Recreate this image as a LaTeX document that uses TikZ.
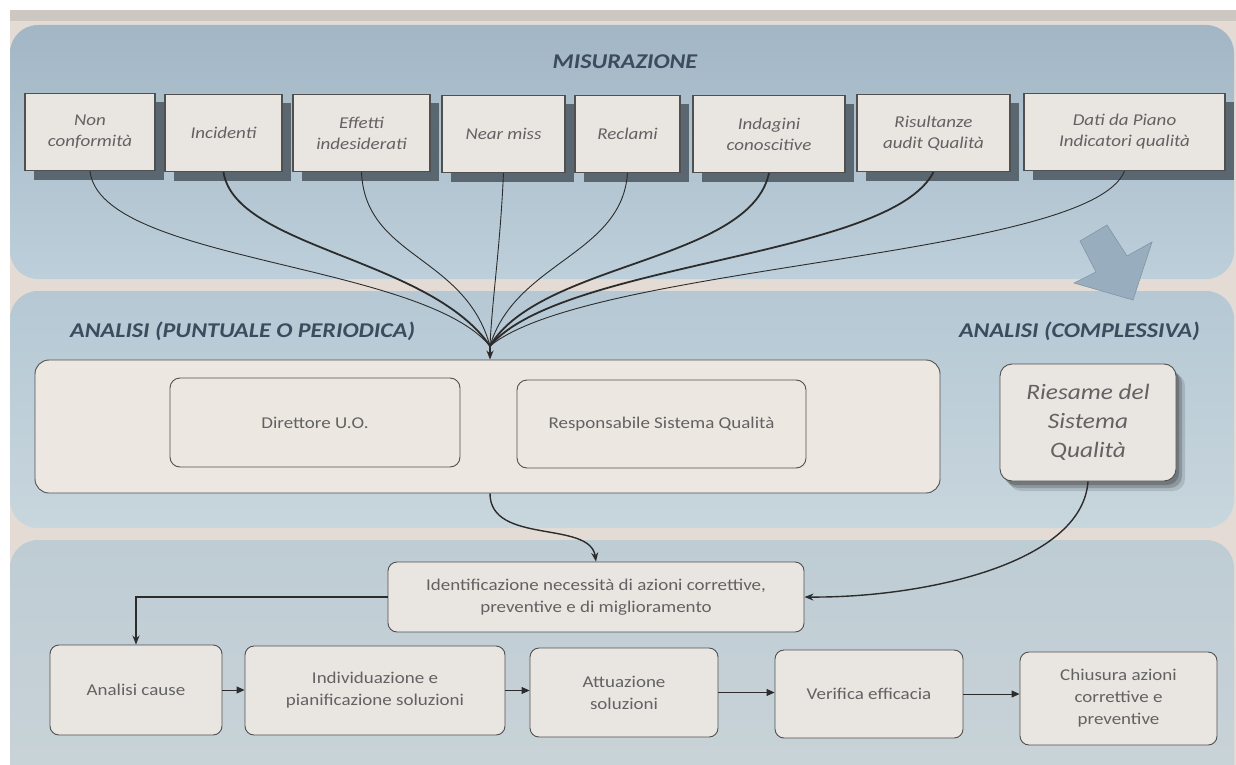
\documentclass[tikz,border=0pt]{standalone}
\usepackage{fontspec}
\setmainfont{Carlito}[FakeStretch=1.15]
\usetikzlibrary{arrows.meta,shadows,calc}

\definecolor{bgbeige}{HTML}{E4DCD4}
\definecolor{stripcol}{HTML}{CCC7C0}
\definecolor{bandtopA}{HTML}{A2B6C5}
\definecolor{bandtopB}{HTML}{BDCFDA}
\definecolor{bandmidA}{HTML}{B5C8D4}
\definecolor{bandmidB}{HTML}{C8D6DD}
\definecolor{bandbotA}{HTML}{BECCD4}
\definecolor{bandbotB}{HTML}{CAD4D8}
\definecolor{boxfill}{HTML}{E9E5E1}
\definecolor{panelfill}{HTML}{EDE7E1}
\definecolor{titlecol}{HTML}{3C4B5D}
\definecolor{txtcol}{HTML}{626262}
\definecolor{edgecol}{HTML}{505050}
\definecolor{shadecol}{HTML}{5A6670}
\definecolor{arrowfill}{HTML}{98ADBD}
\definecolor{arrowedge}{HTML}{8096A7}
\definecolor{linecol}{HTML}{2C2C2C}

\newcommand\titlestyle{\fontsize{21}{25}\selectfont\bfseries\itshape}
\newcommand\measstyle{\fontsize{16.5}{21}\selectfont\itshape}
\newcommand\stepstyle{\fontsize{16.5}{22}\selectfont}
\newcommand\reviewstyle{\fontsize{22}{29}\selectfont\itshape}

\tikzset{
  band/.style={rounded corners=28pt},
  measbox/.style={draw=edgecol, line width=1.1pt, fill=boxfill, inner sep=2pt,
    minimum height=77pt, align=center, text=txtcol, font=\measstyle,
    drop shadow={shadow xshift=9pt, shadow yshift=-9pt, fill=shadecol, opacity=1}},
  panel/.style={draw=edgecol, line width=0.9pt, fill=panelfill, rounded corners=14pt},
  rolebox/.style={draw=edgecol, line width=0.9pt, fill=panelfill, rounded corners=10pt,
    align=center, text=txtcol, font=\stepstyle},
  stepbox/.style={draw=edgecol, line width=0.9pt, fill=boxfill, rounded corners=9pt,
    align=center, text=txtcol, font=\stepstyle, inner sep=2pt},
  reviewbox/.style={draw=edgecol, line width=0.9pt, fill=boxfill, rounded corners=12pt,
    align=center, text=txtcol, font=\reviewstyle,
    drop shadow={shadow xshift=9pt, shadow yshift=-10pt, fill=black, opacity=0.12},
    drop shadow={shadow xshift=6pt, shadow yshift=-7pt, fill=black, opacity=0.18},
    drop shadow={shadow xshift=3pt, shadow yshift=-4pt, fill=black, opacity=0.2}},
  thinflow/.style={draw=linecol, line width=0.9pt},
  thickflow/.style={draw=linecol, line width=1.8pt},
  tip/.style={-{Stealth[length=9pt,width=7pt]}},
  steptip/.style={-{Triangle[length=8pt,width=7pt]}},
  title/.style={text=titlecol, font=\titlestyle, inner sep=0pt}
}

\begin{document}
\begin{tikzpicture}[x=1pt, y=-1pt]
\useasboundingbox (0,0) rectangle (1236,765);

% page background
\fill[white] (0,0) rectangle (1236,765);
\fill[bgbeige] (10,10) rectangle (1236,765);
\fill[stripcol] (10,10) rectangle (1236,21);

% three horizontal bands
\shade[band, top color=bandtopA, bottom color=bandtopB] (10,25) rectangle (1234,279);
\shade[band, top color=bandmidA, bottom color=bandmidB] (10,291) rectangle (1234,528);
\shade[band, top color=bandbotA, bottom color=bandbotB] (10,540) rectangle (1234,800);

% ---- MISURAZIONE ----
\node[title] (tmis) at (625,62) {MISURAZIONE};

\node[measbox, minimum width=130pt] (m1) at (90,132)    {Non\\conformità};
\node[measbox, minimum width=117pt] (m2) at (223.5,133) {Incidenti};
\node[measbox, minimum width=137pt] (m3) at (361.5,133) {Effetti\\indesiderati};
\node[measbox, minimum width=123pt] (m4) at (503.5,134) {Near miss};
\node[measbox, minimum width=105pt] (m5) at (627.5,134) {Reclami};
\node[measbox, minimum width=152pt] (m6) at (769,134)   {Indagini\\conoscitive};
\node[measbox, minimum width=153pt] (m7) at (933.5,133) {Risultanze\\audit Qualità};
\node[measbox, minimum width=201pt] (m8) at (1124.5,132) {Dati da Piano\\Indicatori qualità};

% block arrow towards the overall analysis
\filldraw[fill=arrowfill, draw=arrowedge, line width=0.6pt]
  (1080,241) -- (1107,225) -- (1127,256) -- (1152,242) -- (1133,300)
  -- (1074,283) -- (1096,272) -- cycle;

% ---- ANALISI ----
\node[title, anchor=west] (tpun) at (70,331) {ANALISI (PUNTUALE O PERIODICA)};
\node[title, anchor=east] (tcom) at (1200,331) {ANALISI (COMPLESSIVA)};

\node[panel, minimum width=905pt, minimum height=133pt] (big) at (487.5,426.5) {};
\node[rolebox, minimum width=290pt, minimum height=89pt] (dir) at (315,422.5) {Direttore U.O.};
\node[rolebox, minimum width=289pt, minimum height=88pt] (rsq) at (661.5,424) {Responsabile Sistema Qualità};

\node[reviewbox, minimum width=176pt, minimum height=117pt] (ries) at (1088,422.5)
  {Riesame del\\Sistema\\Qualità};

% ---- AZIONI ----
\node[stepbox, minimum width=416pt, minimum height=70pt] (idn) at (596,597)
  {Identificazione necessità di azioni correttive,\\preventive e di miglioramento};

\node[stepbox, minimum width=172pt, minimum height=90pt] (s1) at (136,690)   {Analisi cause};
\node[stepbox, minimum width=260pt, minimum height=89pt] (s2) at (375,690.5) {Individuazione e\\pianificazione soluzioni};
\node[stepbox, minimum width=188pt, minimum height=89pt] (s3) at (624,692.5) {Attuazione\\soluzioni};
\node[stepbox, minimum width=188pt, minimum height=88pt] (s4) at (869,694)   {Verifica efficacia};
\node[stepbox, minimum width=197pt, minimum height=93pt] (s5) at (1118.5,698.5) {Chiusura azioni\\correttive e\\preventive};

% ---- connectors ----
\coordinate (hub) at (490,346);

\draw[thinflow]  (m1.south) .. controls (100,262) and (420,262) .. (hub);
\draw[thickflow] (m2.south) .. controls (235,248) and (430,258) .. (hub);
\draw[thinflow]  (m3.south) .. controls (365,258) and (465,255) .. (hub);
\draw[thinflow]  (m4.south) .. controls (500,250) and (492,300) .. (hub);
\draw[thinflow]  (m5.south) .. controls (622,255) and (515,262) .. (hub);
\draw[thickflow] (m6.south) .. controls (750,262) and (540,262) .. (hub);
\draw[thickflow] (m7.south) .. controls (890,258) and (560,262) .. (hub);
\draw[thinflow]  (m8.south) .. controls (1090,258) and (590,264) .. (hub);
\draw[thickflow, line width=2.4pt, tip] (hub) -- (hub |- big.north);

\draw[thickflow, line width=1.4pt, tip] (big.south -| hub)
  .. controls (490,545) and (590,520) .. (idn.north);
\draw[thickflow, line width=1.4pt, tip] (ries.south)
  .. controls (1082,565) and (920,598) .. (idn.east);
\draw[thickflow, line width=1.4pt, tip] (idn.west) -| (s1.north);

\draw[thinflow, steptip] (s1.east) -- (s2.west |- s1.east);
\draw[thinflow, steptip] (s2.east) -- (s3.west |- s2.east);
\draw[thinflow, steptip] (s3.east) -- (s4.west |- s3.east);
\draw[thinflow, steptip] (s4.east) -- (s5.west |- s4.east);

\end{tikzpicture}
\end{document}
